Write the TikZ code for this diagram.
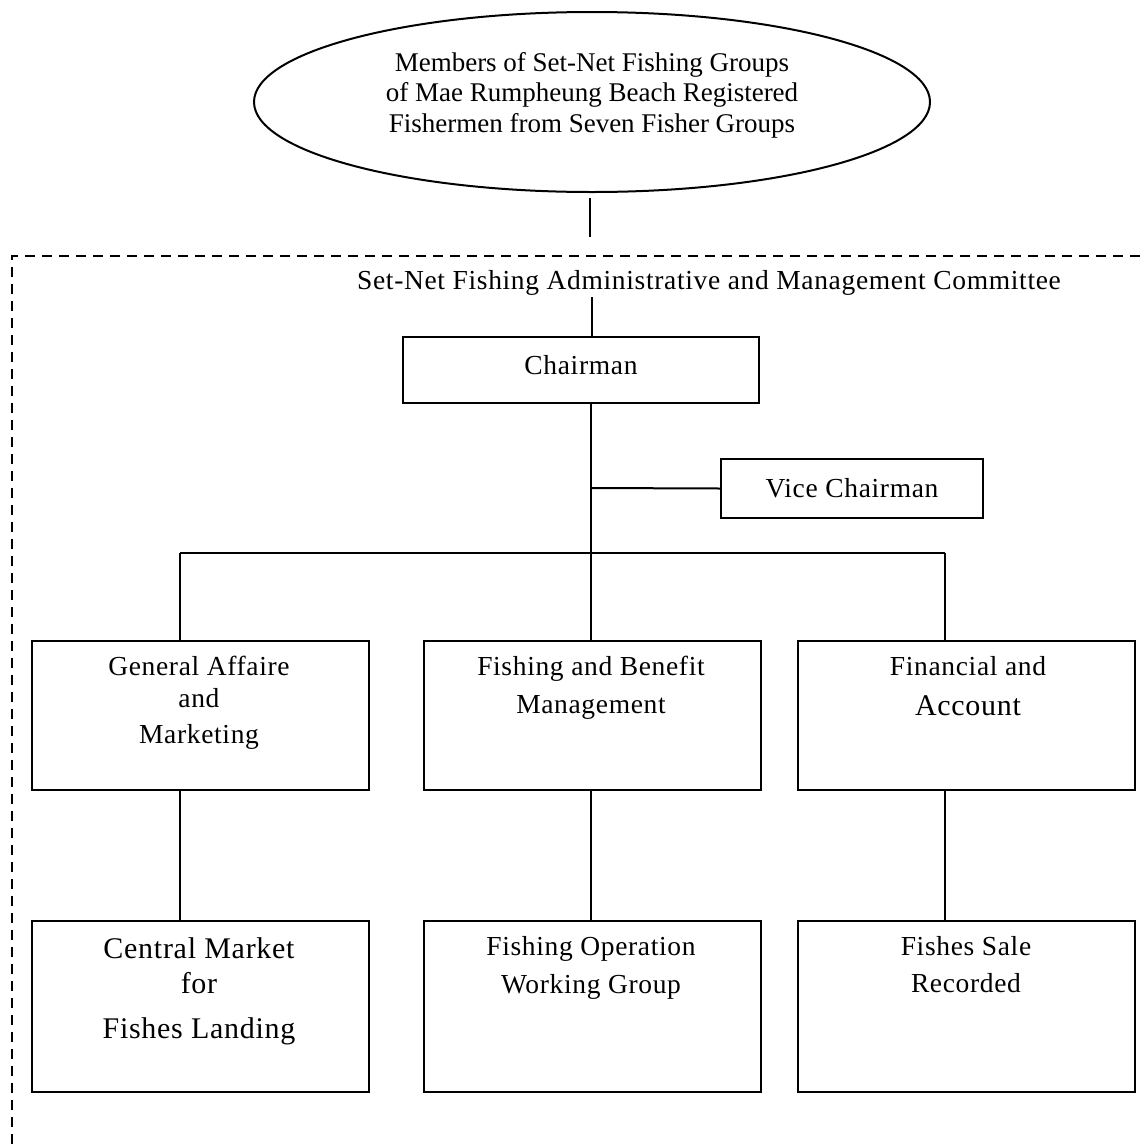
\documentclass[tikz,border=0pt]{standalone}
\usepackage{fontspec}
\setmainfont{Liberation Serif}[LetterSpace=2.4]
\usetikzlibrary{shapes.geometric}
\tikzset{
  box/.style={draw, line width=2pt, rectangle, inner sep=0pt},
  oval/.style={draw, line width=2pt, ellipse, inner sep=0pt, minimum width=676pt, minimum height=180pt},
  lbl/.style={inner sep=0pt, align=center, font=\fontsize{27.5}{30}\selectfont},
  biglbl/.style={inner sep=0pt, align=center, font=\fontsize{30}{30}\selectfont},
  conn/.style={line width=2pt},
  frame/.style={line width=2pt, dash pattern=on 10pt off 7pt},
}
\begin{document}
\begin{tikzpicture}[x=1pt,y=-1pt]
\useasboundingbox (0,0) rectangle (1144,1144);
% dashed committee frame (cropped at right and bottom)
\draw[frame] (12,1144) -- (12,256) -- (1144,256);

% members ellipse
\node[oval] (E) at (592,102) {};
\node[inner sep=0pt, align=center, font=\fontsize{27}{30.5}\addfontfeature{LetterSpace=0}\selectfont, anchor=north] (Et) at (592,49.6)
  {\strut Members of Set-Net Fishing Groups\\ \strut of Mae Rumpheung Beach Registered\\ \strut Fishermen from Seven Fisher Groups};

% committee title
\node[lbl, anchor=base] (T) at (709,289) {Set-Net Fishing Administrative and Management Committee};

% chairman and vice
\node[box, minimum width=356pt, minimum height=66pt] (C) at (581,370) {};
\node[lbl, anchor=base] (Ct) at (581,374) {Chairman};
\node[box, minimum width=262pt, minimum height=59pt] (V) at (852,488.5) {};
\node[lbl, anchor=base] (Vt) at (852,497) {Vice Chairman};

% middle row
\node[box, minimum width=337pt, minimum height=149pt] (L) at (200.5,715.5) {};
\node[box, minimum width=337pt, minimum height=149pt] (M) at (592.5,715.5) {};
\node[box, minimum width=337pt, minimum height=149pt] (R) at (966.5,715.5) {};
\node[lbl, anchor=north] (Lt) at (199,654) {\strut General Affaire\\[2pt] \strut and\\[6pt] \strut Marketing};
\node[lbl, anchor=north] (Mt) at (591,654) {\strut Fishing and Benefit\\[8pt] \strut Management};
\node[lbl, anchor=north] (Rt) at (968,654) {\strut Financial and\\[10pt] \strut{\fontsize{30}{30}\selectfont Account}};

% bottom row
\node[box, minimum width=337pt, minimum height=171pt] (LB) at (200.5,1006.5) {};
\node[box, minimum width=337pt, minimum height=171pt] (MB) at (592.5,1006.5) {};
\node[box, minimum width=337pt, minimum height=171pt] (RB) at (966.5,1006.5) {};
\node[biglbl, anchor=north] (LBt) at (199,937) {\strut Central Market\\[4pt] \strut for\\[15pt] \strut Fishes Landing};
\node[lbl, anchor=north] (MBt) at (591,934) {\strut Fishing Operation\\[8pt] \strut Working Group};
\node[lbl, anchor=north] (RBt) at (966,934) {\strut Fishes Sale\\[7pt] \strut Recorded};

% junction points
\coordinate (e1) at (590,198);
\coordinate (e2) at (590,237);
\coordinate (t1) at (592,297);
\coordinate (jv) at (591,488);
\coordinate (jb) at (591,553);
\coordinate (jl) at (180,553);
\coordinate (jr) at (945,553);

% connectors
\draw[conn] (e1) -- (e2);
\draw[conn] (t1) -- (t1 |- C.north);
\draw[conn] (jb |- C.south) -- (jb |- M.north);
\draw[conn] (jv) -- (V.west);
\draw[conn] (jl) -- (jr);
\draw[conn] (jl) -- (jl |- L.north);
\draw[conn] (jr) -- (jr |- R.north);
\draw[conn] (jl |- L.south) -- (jl |- LB.north);
\draw[conn] (jb |- M.south) -- (jb |- MB.north);
\draw[conn] (jr |- R.south) -- (jr |- RB.north);
\end{tikzpicture}
\end{document}
